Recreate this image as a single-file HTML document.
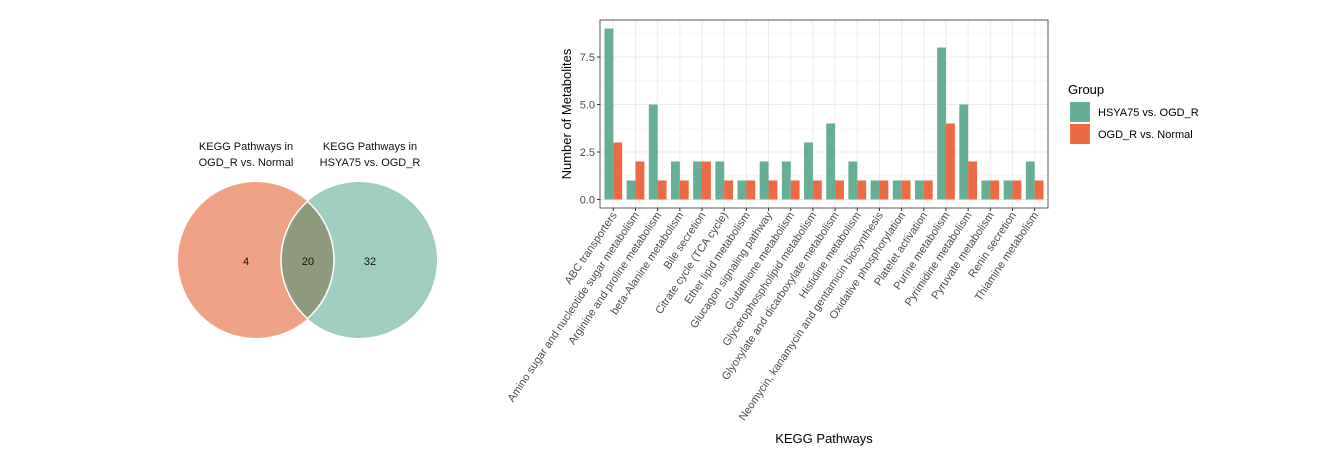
<!DOCTYPE html>
<html><head><meta charset="utf-8"><style>
body{margin:0;background:#fff;}
svg{display:block;font-family:"Liberation Sans",Arial,sans-serif;}
</style></head><body>
<svg id="c" width="1336" height="458">
<g>
<circle cx="256" cy="260" r="78" fill="#F0A285"/>
<circle cx="359" cy="260" r="78" fill="#9FCEC0"/>
<clipPath id="cl"><circle cx="256" cy="260" r="78"/></clipPath>
<clipPath id="cl2"><circle cx="359" cy="260" r="78"/></clipPath>
<circle cx="359" cy="260" r="78" fill="#8F9A7C" stroke="#fff" stroke-width="1.5" clip-path="url(#cl)"/>
<circle cx="256" cy="260" r="78" fill="none" stroke="#fff" stroke-width="1.5" clip-path="url(#cl2)"/>
<g font-size="11" fill="#111" text-anchor="middle">
<text x="246" y="150">KEGG Pathways in</text>
<text x="246" y="166">OGD_R vs. Normal</text>
<text x="370" y="150">KEGG Pathways in</text>
<text x="370" y="166">HSYA75 vs. OGD_R</text>
<text x="246" y="265">4</text>
<text x="308" y="265">20</text>
<text x="370" y="265">32</text>
</g>
</g>
<g id="chart"></g>
</svg>
<script>
const categories=["ABC transporters","Amino sugar and nucleotide sugar metabolism","Arginine and proline metabolism","beta-Alanine metabolism","Bile secretion","Citrate cycle (TCA cycle)","Ether lipid metabolism","Glucagon signaling pathway","Glutathione metabolism","Glycerophospholipid metabolism","Glyoxylate and dicarboxylate metabolism","Histidine metabolism","Neomycin, kanamycin and gentamicin biosynthesis","Oxidative phosphorylation","Platelet activation","Purine metabolism","Pyrimidine metabolism","Pyruvate metabolism","Renin secretion","Thiamine metabolism"];
const hsya=[9,1,5,2,2,2,1,2,2,3,4,2,1,1,1,8,5,1,1,2];
const ogd=[3,2,1,1,2,1,1,1,1,1,1,1,1,1,1,4,2,1,1,1];
const yTicks=[0,2.5,5,7.5];
const yTickLabels=["0.0","2.5","5.0","7.5"];
const NS="http://www.w3.org/2000/svg";
const g=document.getElementById('chart');
const L=600,R=1048,T=20,B=208;
const yMin=-0.45,yMax=9.45;
const y=v=>B-(v-yMin)/(yMax-yMin)*(B-T);
const n=categories.length;
const bw=(R-L)/(n+0.2);
const x=i=>L+(i+0.6)*bw;
function mk(t,a,p){const e=document.createElementNS(NS,t);for(const k in a)e.setAttribute(k,a[k]);(p||g).appendChild(e);return e;}
mk('rect',{x:L,y:T,width:R-L,height:B-T,fill:'#fff'});
for(let i=0;i<yTicks.length;i++){const v=yTicks[i]+1.25;if(v<yMax)mk('line',{x1:L,x2:R,y1:y(v),y2:y(v),stroke:'#f2f2f2','stroke-width':0.6});}
for(let i=0;i<yTicks.length;i++){const gl=mk('line',{x1:L,x2:R,y1:y(yTicks[i]),y2:y(yTicks[i]),stroke:'#ebebeb','stroke-width':1});

}
for(let i=0;i<n;i++){mk('line',{x1:x(i),x2:x(i),y1:T,y2:B,stroke:'#ebebeb','stroke-width':1});}
const w=bw*0.4;
for(let i=0;i<n;i++){
 const b1=mk('rect',{x:x(i)-w,y:y(hsya[i]),width:w,height:y(0)-y(hsya[i]),fill:'#66AE94'});
 
 
 const b2=mk('rect',{x:x(i),y:y(ogd[i]),width:w,height:y(0)-y(ogd[i]),fill:'#EC6B45'});
 
 
}
mk('rect',{x:L,y:T,width:R-L,height:B-T,fill:'none',stroke:'#333','stroke-width':0.8});
for(let i=0;i<yTicks.length;i++){
 mk('line',{x1:L-3,x2:L,y1:y(yTicks[i]),y2:y(yTicks[i]),stroke:'#333'});
 const t=mk('text',{x:L-5,y:y(yTicks[i])+4,'font-size':11,fill:'#4d4d4d','text-anchor':'end'});
 t.textContent=yTickLabels[i];
 
 
}
for(let i=0;i<n;i++){
 mk('line',{x1:x(i),x2:x(i),y1:B,y2:B+3,stroke:'#333'});
 const t=mk('text',{x:x(i)+4,y:B+7,'font-size':11,fill:'#4d4d4d','text-anchor':'end',transform:`rotate(-56 ${x(i)+4} ${B+7})`});
 t.textContent=categories[i];
 
 
}
const yt=mk('text',{x:0,y:0,'font-size':13,fill:'#000','text-anchor':'middle',transform:`translate(571 ${(T+B)/2}) rotate(-90)`});
yt.textContent='Number of Metabolites';


const xt=mk('text',{x:(L+R)/2,y:443,'font-size':13,fill:'#000','text-anchor':'middle'});
xt.textContent='KEGG Pathways';


const lg=mk('g',{});


const lt=mk('text',{x:1068,y:94,'font-size':13,fill:'#000'},lg);lt.textContent='Group';
const k1=mk('rect',{x:1070,y:102,width:20,height:20,fill:'#66AE94'},lg);


const k2=mk('rect',{x:1070,y:124,width:20,height:20,fill:'#EC6B45'},lg);


const t1=mk('text',{x:1098,y:116,'font-size':11,fill:'#000'},lg);t1.textContent='HSYA75 vs. OGD_R';


const t2=mk('text',{x:1098,y:138,'font-size':11,fill:'#000'},lg);t2.textContent='OGD_R vs. Normal';


</script>
</body></html>
